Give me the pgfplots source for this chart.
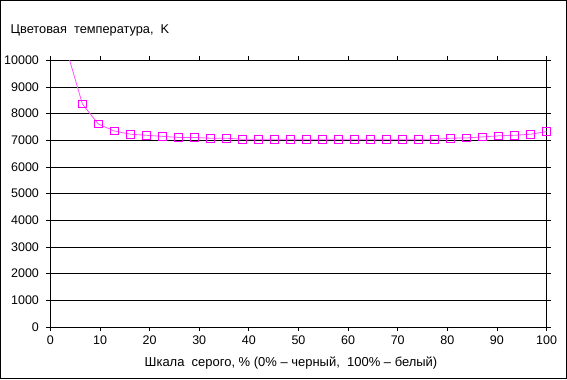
\documentclass[border=0pt]{standalone}
\usepackage{pgfplots}
\pgfplotsset{compat=1.18}
\usepackage{fontspec}
\setmainfont{Liberation Sans}
\definecolor{mag}{RGB}{255,0,255}
\definecolor{magl}{RGB}{255,80,255}
\begin{document}
\begin{tikzpicture}
\begin{axis}[
  scale only axis,
  width=497pt, height=267pt,
  xmin=0, xmax=100, ymin=0, ymax=10000,
  xtick={0,10,...,100}, ytick={0,1000,...,10000},
  scaled y ticks=false,
  tick align=outside, major tick length=4pt,
  tick style={black, line width=0.8pt},
  axis line style={black, line width=0.8pt},
  ymajorgrids, grid style={black, line width=0.8pt},
  /pgf/number format/assume math mode=true,
  /pgf/number format/1000 sep={},
  tick label style={font=\fontsize{12.5}{14}\selectfont},
  yticklabel style={xshift=-4pt},
  xticklabel style={yshift=-1pt},
  clip=true,
]
\addplot[color=magl, line width=0.8pt, mark=square, mark size=3.8pt,
  mark options={draw=mag, fill=white, line width=1pt, solid},
  mark indices={1,2,3,4,5,6,7,8,9,10,11,12,13,14,15,16,17,18,19,20,21,22,23,24,25,26,27,28,29,30}]
coordinates {
(3.226,10420) (6.452,8360) (9.677,7610) (12.903,7350) (16.129,7230)
(19.355,7190) (22.581,7150) (25.806,7110) (29.032,7110) (32.258,7080)
(35.484,7080) (38.710,7040) (41.935,7040) (45.161,7040) (48.387,7040)
(51.613,7040) (54.839,7040) (58.065,7040) (61.290,7040) (64.516,7040)
(67.742,7040) (70.968,7040) (74.194,7040) (77.419,7040) (80.645,7080)
(83.871,7090) (87.097,7130) (90.323,7170) (93.548,7190) (96.774,7230)
(100,7330)
};
\end{axis}
\draw[black, line width=1pt] (-50pt,-52pt) rectangle (517pt,327pt);
\node[anchor=base west, font=\fontsize{12.8}{15}\selectfont, inner sep=0pt] at (-40pt,294pt) {Цветовая\ \ температура,\ \ K};
\node[anchor=base, font=\fontsize{13}{15}\selectfont, inner sep=0pt] at (241pt,-40pt) {Шкала\ \ серого,\ \%\ (0\%\ –\ черный,\ \ 100\%\ –\ белый)};
\end{tikzpicture}
\end{document}
